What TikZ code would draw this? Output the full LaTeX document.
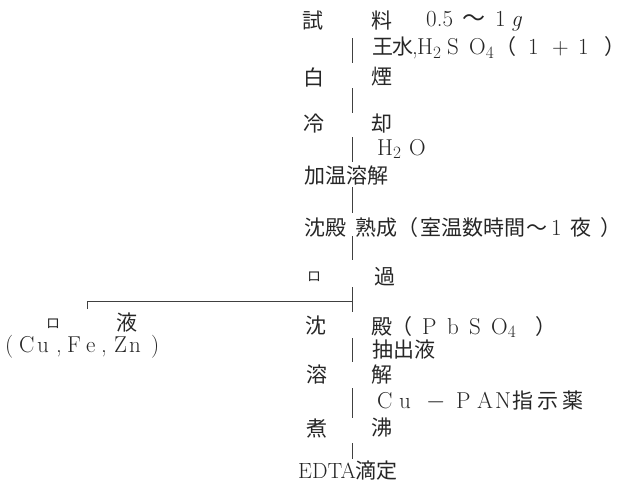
\documentclass[tikz,border=0pt]{standalone}
\usepackage{fontspec}
\newfontfamily\jp{Noto Sans CJK JP}
\newcommand\putx[2]{\rlap{\hspace*{#1pt}#2}}
\begin{document}
\begin{tikzpicture}[x=1pt,y=-1pt,
  t/.style={inner sep=0pt,text=black!85,font=\fontsize{23}{23}\selectfont},
  j/.style={t,font=\jp\fontsize{21}{21}\selectfont},
  js/.style={t,font=\jp\fontsize{14}{14}\selectfont},
  seg/.style={line width=1pt,draw=black!75}]
\useasboundingbox (0,0) rectangle (634,488);
% left column (steps)
\node[j] (a1) at (313,21) {試};
\node[j] (a2) at (314,77) {白};
\node[j] (a3) at (314,124) {冷};
\node[j,anchor=west] (a4) at (304,176) {加温溶解};
\node[j,anchor=west] (a5) at (304,228) {\putx{0}{沈}\putx{21}{殿}\putx{51}{熟}\putx{72}{成}\putx{93}{（}\putx{116}{室}\putx{137}{温}\putx{158}{数}\putx{179}{時}\putx{200}{間}\putx{222}{～}\putx{247}{\fontspec{Latin Modern Roman}\fontsize{23}{23}\selectfont 1}\putx{266}{夜}\putx{296}{）}\hspace*{318pt}};
\node[js] (a6) at (314,277) {ロ};
\node[j] (a7) at (316,326) {沈};
\node[j] (a8) at (317,375) {溶};
\node[j] (a9) at (317,428) {煮};
\node[t,anchor=west,font=\fontsize{22}{22}\selectfont] (a10) at (298,471) {EDTA{\jp\fontsize{21}{21}\selectfont 滴定}};
% right column
\node[j] (b1) at (382,21) {料};
\node[t,anchor=west] (q1) at (426,21) {\putx{0}{0.5}\putx{36}{\jp ～}\putx{69}{1}\putx{85}{\textit{g}}\hspace*{100pt}};
\node[t,anchor=west] (r1) at (372,48) {\putx{0}{\jp\fontsize{21}{21}\selectfont 王}\putx{20}{\jp\fontsize{21}{21}\selectfont 水}\putx{40}{,}\putx{45}{H$_2$}\putx{75}{S}\putx{97}{O$_4$}\putx{123}{\jp\fontsize{21}{21}\selectfont （}\putx{156}{1}\putx{180}{+}\putx{206}{1}\putx{232}{\jp\fontsize{21}{21}\selectfont ）}\hspace*{256pt}};
\node[j] (b2) at (382,77) {煙};
\node[j] (b3) at (382,124) {却};
\node[t,anchor=west] (r2) at (377,149) {\putx{0}{H$_2$}\putx{32}{O}\hspace*{50pt}};
\node[j] (b6) at (385,277) {過};
\node[t,anchor=west] (b7) at (371,327) {\putx{0}{\jp\fontsize{21}{21}\selectfont 殿}\putx{20}{\jp\fontsize{21}{21}\selectfont （}\putx{51}{P}\putx{76}{b}\putx{98}{S}\putx{120}{O$_4$}\putx{164}{\jp\fontsize{21}{21}\selectfont ）}\hspace*{180pt}};
\node[j,anchor=west] (r3) at (372,350) {抽出液};
\node[j] (b8) at (382,375) {解};
\node[t,anchor=west] (r4) at (377,401) {\putx{0}{C}\putx{22}{u}\putx{49}{$-$}\putx{79}{P}\putx{100}{A}\putx{118}{N}\putx{135}{\jp\fontsize{21}{21}\selectfont 指}\putx{160}{\jp\fontsize{21}{21}\selectfont 示}\putx{185}{\jp\fontsize{21}{21}\selectfont 薬}\hspace*{210pt}};
\node[j] (b9) at (382,428) {沸};
% filtrate
\node[js] (f1) at (53,324) {ロ};
\node[j] (f2) at (127,323) {液};
\node[t,anchor=west] (f3) at (5,347) {\putx{0}{(}\putx{14}{C}\putx{32}{u}\putx{51}{,}\putx{62}{F}\putx{81}{e}\putx{96}{,}\putx{109}{Z}\putx{124}{n}\putx{146}{)}\hspace*{156pt}};
% connectors
\coordinate (c1a) at (352,38); \coordinate (c1b) at (352,63);
\coordinate (c2a) at (352,88); \coordinate (c2b) at (352,113);
\coordinate (c3a) at (352,137); \coordinate (c3b) at (352,162);
\coordinate (c4a) at (352,187); \coordinate (c4b) at (352,213);
\coordinate (c5a) at (352,236); \coordinate (c5b) at (352,260);
\coordinate (c6a) at (352,287); \coordinate (c6b) at (352,312);
\coordinate (br) at (352,301); \coordinate (bl) at (87,301); \coordinate (bt) at (87,309);
\coordinate (c7a) at (352,338); \coordinate (c7b) at (352,362);
\coordinate (c8a) at (352,388); \coordinate (c8b) at (352,418);
\coordinate (c9a) at (352,443); \coordinate (c9b) at (352,459);
\foreach \i in {1,...,9} \draw[seg] (c\i a) -- (c\i b);
\draw[seg] (bt) -- (bl) -- (br);
\end{tikzpicture}
\end{document}
